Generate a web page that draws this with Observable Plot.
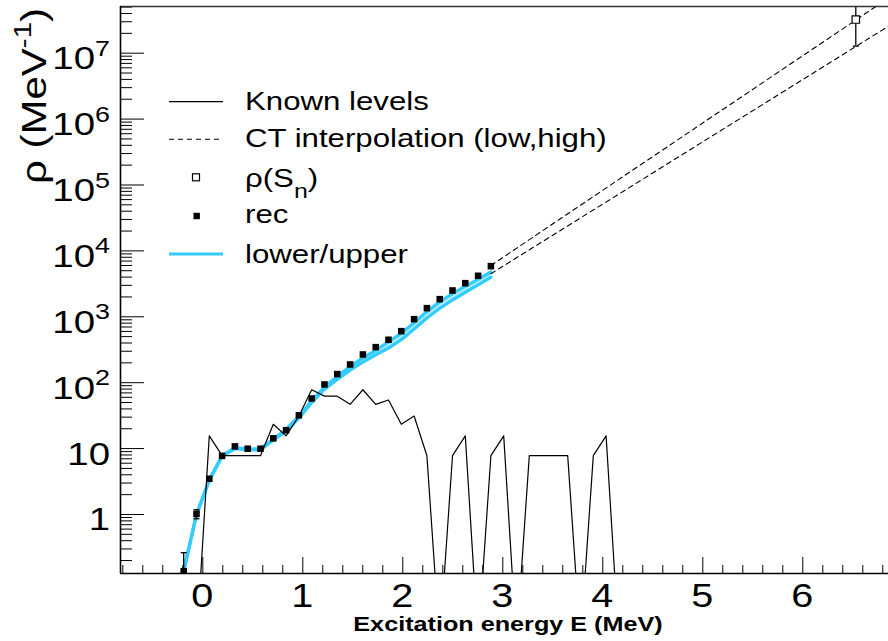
<!DOCTYPE html>
<html><head><meta charset="utf-8">
<script src="https://cdn.jsdelivr.net/npm/d3@7"></script>
<script src="https://cdn.jsdelivr.net/npm/@observablehq/plot@0.6"></script>
<style>
html,body{margin:0;padding:0;background:#fff;}
#chart{width:888px;height:641px;overflow:hidden;}
svg{display:block;}
</style></head><body><div id="chart"></div>
<script>
// ---- data ----
const recE = [-0.191,-0.063,0.065,0.193,0.321,0.449,0.577,0.705,0.833,0.961,1.089,1.217,1.345,1.473,1.601,1.729,1.857,1.985,2.113,2.241,2.369,2.497,2.625,2.753,2.881];
const recRho = [0.138,1.02,3.48,7.75,10.8,9.95,9.95,14.3,19.0,32,57.6,94,135,189,268,346,448,605,920,1352,1850,2506,3236,4188,5860];
const recErr = [0.125,0.16,0.1,0.2,0.3,0.3,0.3,0.4,0.5,0.8,1.5,2,3,4,6,8,10,14,20,30,40,60,80,120,700];
const bandLower = [0.138,1.0,3.3,7.6,10.0,9.6,9.6,13.4,18.5,29,50,80,112,155,205,265,335,450,653,960,1345,1800,2355,3050,3980];
const bandUpper = [0.138,1.0,3.4,7.8,10.3,9.9,9.9,14.0,19.5,31,53,86,125,175,237,310,415,560,813,1200,1680,2250,2900,3700,4790];
const knownE = [-0.063,0.065,0.193,0.321,0.449,0.577,0.705,0.833,0.961,1.089,1.217,1.345,1.473,1.601,1.729,1.857,1.985,2.113,2.241,2.369,2.497,2.625,2.753,2.881,3.009,3.137,3.265,3.393,3.521,3.649,3.777,3.905,4.033,4.161];
const knownRho = [0,15.6,7.8,7.8,7.8,7.8,23.4,15.6,31.2,78.1,62.5,62.5,46.9,78.1,46.9,54.7,23.4,31.2,7.8,0,7.8,15.6,0,7.8,15.6,0,7.8,7.8,7.8,7.8,0,7.8,15.6,0];
const ctE = [2.881, 6.857];
const ctLow = [4500, 2.57e7];
const ctHigh = [6000, 6.87e7];
const snE = [6.53];
const snRho = [3.24e7];
const snErr = [1.96e7];
const xTickValues = [0,1,2,3,4,5,6];
const xTickLabels = ["0","1","2","3","4","5","6"];
const yTickValues = [1,10,1e2,1e3,1e4,1e5,1e6,1e7];
const yTickLabels = ["1","10","10^{2}","10^{3}","10^{4}","10^{5}","10^{6}","10^{7}"];
const legendLabels = ["Known levels","CT interpolation (low,high)","\u03c1(S_{n})","rec","lower/upper"];
const xTitle = "Excitation energy E (MeV)";
const yTitle = "\u03c1 (MeV^{-1})";

// ---- styles ----
const CYAN = "#33ccff";
const FONT = "'Liberation Sans', Arial, sans-serif";
const SX = 1.2; // horizontal stretch of the reference glyphs (along the text direction)
const xDomain = [-0.823, 6.857];
const yDomain = [0.1272, 5.11e7];
const ZERO_FLOOR = 0.0115; // empty bins drawn below the frame

const rec = recE.map((E,i)=>({E, rho: recRho[i], lo: recRho[i]-recErr[i], hi: recRho[i]+recErr[i], err: recErr[i]}));
const band = recE.map((E,i)=>({E, lower: bandLower[i], upper: bandUpper[i]}));
const known = knownE.map((E,i)=>({E, rho: knownRho[i] > 0 ? knownRho[i] : ZERO_FLOOR}));
const ctLowData = ctE.map((E,i)=>({E, rho: ctLow[i]}));
const ctHighData = ctE.map((E,i)=>({E, rho: ctHigh[i]}));
const sn = snE.map((E,i)=>({E, rho: snRho[i], lo: snRho[i]-snErr[i], hi: snRho[i]+snErr[i]}));
const recBars = rec.filter(d => d.err > 0.15*d.rho);

const xMinor = d3.range(-4, 35).filter(i => i % 5 !== 0).map(i => i/5);
const yMinor = [];
for (let e = -1; e <= 7; e++) for (let m = 2; m <= 9; m++) { const v = m*Math.pow(10,e); if (v > yDomain[0] && v < yDomain[1]) yMinor.push(v); }

const capSymbol = {draw(ctx){ ctx.moveTo(-3,0); ctx.lineTo(3,0); }};

const plot = Plot.plot({
  width: 888, height: 641,
  marginLeft: 120, marginRight: 0, marginTop: 6, marginBottom: 68,
  x: {domain: xDomain, axis: null},
  y: {type: "log", domain: yDomain, axis: null},
  style: {background: "white"},
  marks: [
    Plot.areaY(band, {x: "E", y1: "lower", y2: "upper", fill: CYAN, fillOpacity: 0.35, clip: true}),
    Plot.line(band, {x: "E", y: "lower", stroke: CYAN, strokeWidth: 3.3, clip: true}),
    Plot.line(band, {x: "E", y: "upper", stroke: CYAN, strokeWidth: 3.3, clip: true}),
    Plot.line(known, {x: "E", y: "rho", stroke: "black", strokeWidth: 1.2, clip: true}),
    Plot.line(ctLowData, {x: "E", y: "rho", stroke: "black", strokeWidth: 1.1, strokeDasharray: "5,4", clip: true}),
    Plot.line(ctHighData, {x: "E", y: "rho", stroke: "black", strokeWidth: 1.1, strokeDasharray: "5,4", clip: true}),
    Plot.ruleX(recBars, {x: "E", y1: "lo", y2: "hi", stroke: "black", strokeWidth: 1.3, clip: true}),
    Plot.dot(recBars, {x: "E", y: "hi", symbol: capSymbol, stroke: "black", strokeWidth: 1.3, clip: true}),
    Plot.dot(recBars, {x: "E", y: "lo", symbol: capSymbol, stroke: "black", strokeWidth: 1.3, clip: true}),
    Plot.dot(rec, {x: "E", y: "rho", symbol: "square", fill: "black", r: 3.7, clip: true}),
    Plot.ruleX(sn, {x: "E", y1: "lo", y2: "hi", stroke: "black", strokeWidth: 1.3, clip: true}),
    Plot.dot(sn, {x: "E", y: "lo", symbol: capSymbol, stroke: "black", strokeWidth: 1.3, clip: true}),
    Plot.dot(sn, {x: "E", y: "rho", symbol: "square", fill: "white", stroke: "black", strokeWidth: 1.2, r: 4.2, clip: true}),
    // ticks
    Plot.ruleX(xMinor, {x: d => d, insetTop: 559, stroke: "black", strokeWidth: 1}),
    Plot.ruleX(xTickValues, {x: d => d, insetTop: 551, stroke: "black", strokeWidth: 1}),
    Plot.ruleY(yMinor, {y: d => d, insetRight: 756, stroke: "black", strokeWidth: 1}),
    Plot.ruleY(yTickValues, {y: d => d, insetRight: 744, stroke: "black", strokeWidth: 1}),
    // frame lines
    Plot.ruleY([yDomain[0]], {stroke: "black", strokeWidth: 1.6}),
    Plot.ruleY([yDomain[1]], {stroke: "#333", strokeWidth: 1.6}),
    Plot.ruleX([xDomain[0]], {stroke: "black", strokeWidth: 1.6})
  ]
});
document.getElementById("chart").appendChild(plot);

const xs = plot.scale("x"), ys = plot.scale("y");
const svg = d3.select(plot);
const g = svg.append("g").attr("font-family", FONT).attr("fill", "black");

function rich(sel, str, size) {
  const re = /([\^_])\{([^}]*)\}/g;
  let last = 0, m, shift = 0;
  const push = (t, kind) => {
    const ts = sel.append("tspan").text(t);
    let target = 0;
    if (kind === "^") { ts.attr("font-size", size*0.7); target = -0.42*size; }
    else if (kind === "_") { ts.attr("font-size", size*0.8); target = 0.42*size; }
    if (target !== shift) { ts.attr("dy", target - shift); shift = target; }
  };
  while ((m = re.exec(str))) {
    if (m.index > last) push(str.slice(last, m.index), null);
    push(m[2], m[1]);
    last = re.lastIndex;
  }
  if (last < str.length) push(str.slice(last), null);
}
function label(x, y, str, {size, anchor = "start", weight = "normal", rotate = 0}) {
  const t = g.append("text")
    .attr("transform", `translate(${x},${y})` + (rotate ? ` rotate(${rotate})` : "") + ` scale(${SX},1)`)
    .attr("text-anchor", anchor).attr("font-size", size).attr("font-weight", weight);
  rich(t, str, size);
  return t;
}

const x0 = xs.apply(xDomain[0]);
const yBottom = ys.apply(yDomain[0]);
const yTop = ys.apply(yDomain[1]);
// y tick labels
yTickValues.forEach((v, i) => label(x0 - 10, ys.apply(v) + 16.5, yTickLabels[i], {size: 32, anchor: "end"}));
// x tick labels
xTickValues.forEach((v, i) => label(xs.apply(v), yBottom + 33.5, xTickLabels[i], {size: 33, anchor: "middle"}));
// axis titles
label((x0 + xs.apply(xDomain[1]))/2 + 4, yBottom + 57.5, xTitle, {size: 21, anchor: "middle", weight: "bold"});
label(x0 - 74, yTop + 2, yTitle, {size: 35, anchor: "end", rotate: -90});

// legend
const lg = g.append("g");
const lx0 = 169, lx1 = 223, tx = 245;
const rows = [101.7, 139.3, 177.3, 216, 254];
const base = [110, 147, 187, 223, 263];
lg.append("line").attr("x1", lx0).attr("x2", lx1).attr("y1", rows[0]).attr("y2", rows[0]).attr("stroke", "black").attr("stroke-width", 1.2);
lg.append("line").attr("x1", lx0).attr("x2", lx1).attr("y1", rows[1]).attr("y2", rows[1]).attr("stroke", "black").attr("stroke-width", 1.1).attr("stroke-dasharray", "5,4");
lg.append("rect").attr("x", 196 - 3.5).attr("y", rows[2] - 3.5).attr("width", 7).attr("height", 7).attr("fill", "white").attr("stroke", "black").attr("stroke-width", 1.2);
lg.append("rect").attr("x", 196.7 - 3.2).attr("y", rows[3] - 3.2).attr("width", 6.4).attr("height", 6.4).attr("fill", "black");
lg.append("line").attr("x1", lx0).attr("x2", lx1).attr("y1", rows[4]).attr("y2", rows[4]).attr("stroke", CYAN).attr("stroke-width", 3);
legendLabels.forEach((s, i) => label(tx, base[i], s, {size: 26}));
</script></body></html>
